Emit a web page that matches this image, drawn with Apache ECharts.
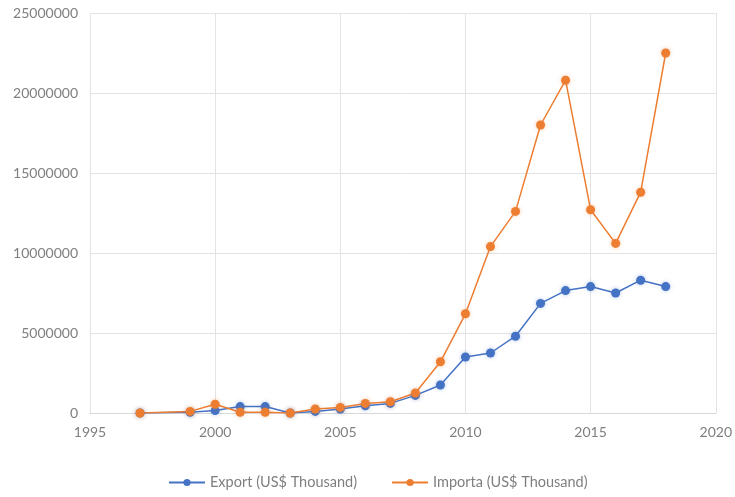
<!DOCTYPE html>
<html>
<head>
<meta charset="utf-8">
<script src="https://cdn.jsdelivr.net/npm/echarts@6/dist/echarts.min.js"></script>
<style>
html, body { margin: 0; padding: 0; background: #fff; }
#chart { width: 735px; height: 497px; }
</style>
</head>
<body>
<div id="chart"></div>
<script>
var dom = document.getElementById("chart");
var myChart = echarts.init(dom);

// data
var years = [1997, 1999, 2000, 2001, 2002, 2003, 2004, 2005, 2006, 2007, 2008, 2009, 2010, 2011, 2012, 2013, 2014, 2015, 2016, 2017, 2018];
var exportValues = [0, 50000, 150000, 400000, 400000, 0, 100000, 250000, 450000, 600000, 1100000, 1750000, 3500000, 3750000, 4800000, 6850000, 7650000, 7900000, 7500000, 8300000, 7900000];
var importValues = [0, 100000, 550000, 50000, 50000, 0, 250000, 350000, 600000, 700000, 1250000, 3200000, 6200000, 10400000, 12600000, 18000000, 20800000, 12700000, 10600000, 13800000, 22500000];
var seriesNames = ['Export (US$ Thousand)', 'Importa (US$ Thousand)'];

function pairs(vals) {
	var out = [];
	for (var i = 0; i < years.length; i++) {
		out.push([years[i], vals[i]]);
	}
	return out;
}

var labelStyle = { color: '#7f7f7f', fontSize: 14, fontFamily: 'Lato' };
var gridLine = { show: true, lineStyle: { color: '#e3e3e3', width: 1 } };

option = {
	textStyle: { fontFamily: 'Lato' },
	grid: { left: 90, right: 15, top: 13, bottom: 84 },
	legend: {
		bottom: 2,
		left: 163,
		itemWidth: 36,
		itemHeight: 9,
		itemGap: 34,
		textStyle: { color: '#7f7f7f', fontSize: 14.5, fontFamily: 'Lato' },
		data: seriesNames
	},
	xAxis: {
		type: 'value',
		min: 1995,
		max: 2020,
		interval: 5,
		axisLine: { show: true, lineStyle: { color: '#d9d9d9' } },
		axisTick: { show: false },
		axisLabel: Object.assign({ margin: 12, formatter: function (v) { return String(v); } }, labelStyle),
		splitLine: gridLine
	},
	yAxis: {
		type: 'value',
		min: 0,
		max: 25000000,
		interval: 5000000,
		axisLine: { show: false },
		axisTick: { show: false },
		axisLabel: Object.assign({ margin: 12, formatter: function (v) { return String(v); } }, labelStyle),
		splitLine: gridLine
	},
	series: [{
		name: seriesNames[0],
		type: 'line',
		data: pairs(exportValues),
		symbol: 'circle',
		symbolSize: 9,
		color: '#4472c4',
		lineStyle: { width: 1.5, color: '#4472c4' },
		itemStyle: { color: '#4472c4', shadowBlur: 4, shadowColor: 'rgba(68,114,196,0.4)' }
	}, {
		name: seriesNames[1],
		type: 'line',
		data: pairs(importValues),
		symbol: 'circle',
		symbolSize: 9,
		color: '#ed7d31',
		lineStyle: { width: 1.5, color: '#ed7d31' },
		itemStyle: { color: '#ed7d31', shadowBlur: 4, shadowColor: 'rgba(237,125,49,0.4)' }
	}]
};

if (option && typeof option === "object") {
	myChart.setOption(option, true);
}
</script>
</body>
</html>
